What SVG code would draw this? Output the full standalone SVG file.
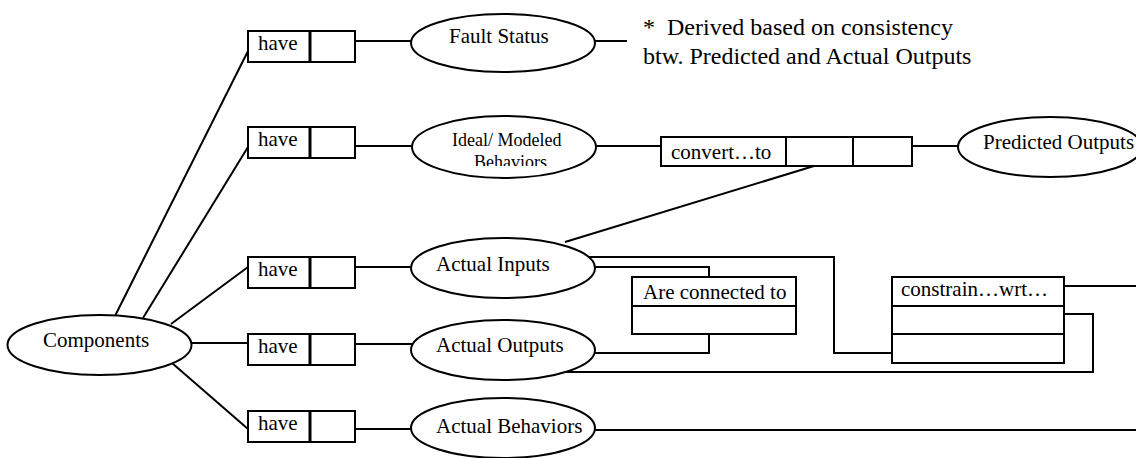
<svg xmlns="http://www.w3.org/2000/svg" width="1136" height="458" viewBox="0 0 1136 458">
<style>
  .s{fill:none;stroke:#000;stroke-width:2}
  .b{fill:#fff;stroke:#000;stroke-width:2}
  .d{stroke:#000;stroke-width:3}
  text{font-family:"Liberation Serif","Times New Roman",serif;font-size:21px;fill:#000}
  .sm{font-size:18px}
  .note{font-size:24px}
</style>
<defs>
  <clipPath id="clipIdeal"><rect x="412" y="110" width="190" height="56"/></clipPath>
</defs>
<g id="connectors" class="s">
  <line x1="114" y1="318" x2="248" y2="51"/>
  <line x1="143" y1="318" x2="248" y2="147"/>
  <line x1="171" y1="324" x2="248" y2="267"/>
  <line x1="192" y1="343" x2="248" y2="343"/>
  <line x1="172" y1="363" x2="248" y2="429"/>
  <line x1="355" y1="41" x2="412" y2="41"/>
  <line x1="355" y1="146" x2="412" y2="146"/>
  <line x1="355" y1="267" x2="412" y2="267"/>
  <line x1="355" y1="344" x2="421" y2="344"/>
  <line x1="355" y1="429" x2="412" y2="429"/>
  <line x1="595" y1="41" x2="627" y2="41"/>
  <line x1="596" y1="146" x2="661" y2="146"/>
  <line x1="912" y1="146" x2="958" y2="146"/>
  <line x1="565" y1="242" x2="814" y2="166"/>
  <polyline points="583,257 834,257 834,353 892,353"/>
  <polyline points="595,267 709,267 709,277"/>
  <polyline points="594,353 709,353 709,334"/>
  <polyline points="565,372 1093,372 1093,314 1064,314"/>
  <line x1="1064" y1="286" x2="1136" y2="286"/>
  <line x1="595" y1="430" x2="1136" y2="430"/>
</g>
<g id="components">
  <ellipse class="b" cx="99.5" cy="345" rx="92" ry="30"/>
  <text x="43" y="347">Components</text>
</g>
<g id="have1">
  <rect class="b" x="248" y="31" width="107" height="31"/>
  <line class="d" x1="310" y1="31" x2="310" y2="62"/>
  <text x="258" y="50">have</text>
</g>
<g id="have2">
  <rect class="b" x="248" y="127" width="107" height="31"/>
  <line class="d" x1="310" y1="127" x2="310" y2="158"/>
  <text x="258" y="146">have</text>
</g>
<g id="have3">
  <rect class="b" x="248" y="257" width="107" height="31"/>
  <line class="d" x1="310" y1="257" x2="310" y2="288"/>
  <text x="258" y="276">have</text>
</g>
<g id="have4">
  <rect class="b" x="248" y="334" width="107" height="31"/>
  <line class="d" x1="310" y1="334" x2="310" y2="365"/>
  <text x="258" y="353">have</text>
</g>
<g id="have5">
  <rect class="b" x="248" y="411" width="107" height="31"/>
  <line class="d" x1="310" y1="411" x2="310" y2="442"/>
  <text x="258" y="430">have</text>
</g>
<g id="fault-status">
  <ellipse class="b" cx="503" cy="43" rx="92" ry="29"/>
  <text x="449" y="43">Fault Status</text>
</g>
<g id="note">
  <text class="note" x="643" y="35" xml:space="preserve">*  Derived based on consistency</text>
  <text class="note" x="643" y="64">btw. Predicted and Actual Outputs</text>
</g>
<g id="ideal-behaviors">
  <ellipse class="b" cx="504" cy="147" rx="92" ry="31"/>
  <g clip-path="url(#clipIdeal)">
    <text class="sm" x="452" y="146">Ideal/ Modeled</text>
    <text class="sm" x="474" y="168">Behaviors</text>
  </g>
</g>
<g id="convert-to">
  <rect class="b" x="661" y="137" width="251" height="29"/>
  <line class="s" x1="786" y1="137" x2="786" y2="166"/>
  <line class="s" x1="853" y1="137" x2="853" y2="166"/>
  <text x="671" y="159">convert…to</text>
</g>
<g id="predicted-outputs">
  <ellipse class="b" cx="1050" cy="147" rx="92" ry="30"/>
  <text x="983" y="149">Predicted Outputs</text>
</g>
<g id="actual-inputs">
  <ellipse class="b" cx="503" cy="268" rx="92" ry="30"/>
  <text x="436" y="271">Actual Inputs</text>
</g>
<g id="actual-outputs">
  <ellipse class="b" cx="503" cy="350" rx="92" ry="30"/>
  <text x="436" y="352">Actual Outputs</text>
</g>
<g id="actual-behaviors">
  <ellipse class="b" cx="503" cy="428" rx="92" ry="30"/>
  <text x="436" y="433">Actual Behaviors</text>
</g>
<g id="are-connected-to">
  <rect class="b" x="632" y="277" width="164" height="57"/>
  <line class="s" x1="632" y1="306" x2="796" y2="306"/>
  <text x="643" y="299">Are connected to</text>
</g>
<g id="constrain-wrt">
  <rect class="b" x="892" y="277" width="172" height="86"/>
  <line class="s" x1="892" y1="306" x2="1064" y2="306"/>
  <line class="s" x1="892" y1="334" x2="1064" y2="334"/>
  <text x="901" y="296">constrain…wrt…</text>
</g>
</svg>
